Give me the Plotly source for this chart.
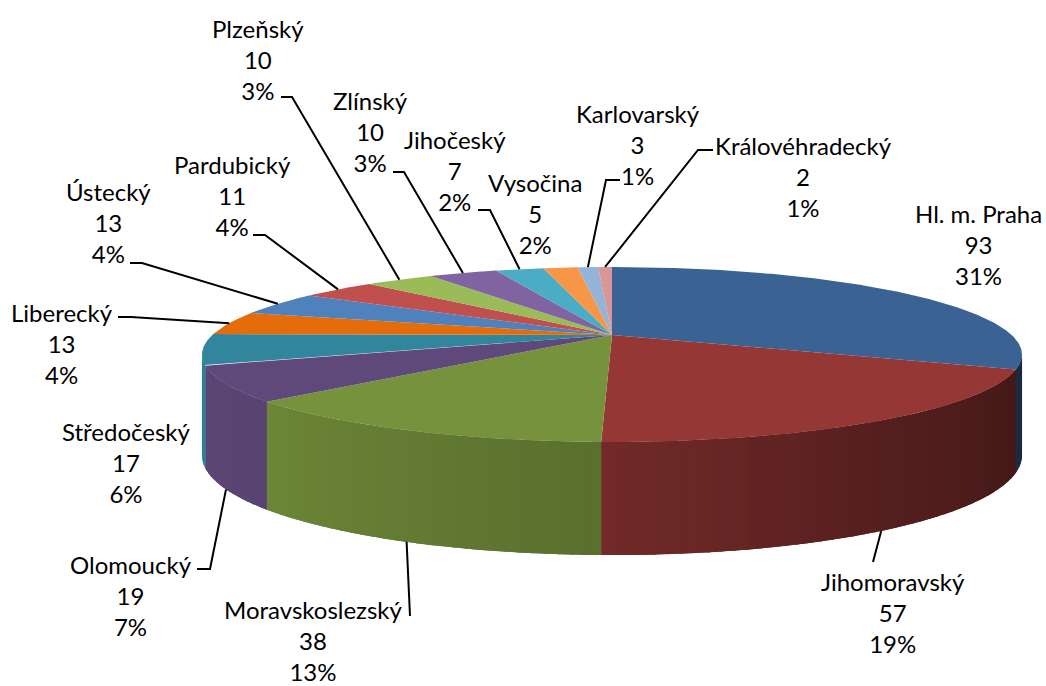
import numpy as np
import plotly.graph_objects as go

# ---------------- data ----------------
regions = ["Hl. m. Praha", "Jihomoravský", "Moravskoslezský", "Olomoucký",
           "Středočeský", "Liberecký", "Ústecký", "Pardubický", "Plzeňský",
           "Zlínský", "Jihočeský", "Vysočina", "Karlovarský", "Královéhradecký"]
counts = [93, 57, 38, 19, 17, 13, 13, 11, 10, 10, 7, 5, 3, 2]
pct_labels = ["31%", "19%", "13%", "7%", "6%", "4%", "4%", "4%", "3%", "3%",
              "2%", "2%", "1%", "1%"]

# ---------------- styles ----------------
colors = ["#3A6394", "#953735", "#76923C", "#5F497A", "#31859C", "#E46C0A",
          "#4F81BD", "#C0504D", "#9BBB59", "#8064A2", "#4BACC6", "#F79646",
          "#95B3D7", "#D99694"]

# label block centres (middle text line), in pixels of the 1046x686 canvas
label_xy = [(978, 244), (893, 612), (313, 640), (131, 595), (126, 462),
            (62, 343), (108, 222), (232, 195), (258, 59), (370, 131),
            (455, 170), (535, 213), (638, 144), (803, 176)]
# leader line start + knee near the label (None = no leader line)
leader_pts = [None,
              [(873, 562)],
              [(410, 616)],
              [(197, 569), (210, 569)],
              None,
              [(118, 317), (131, 317)],
              [(130, 263), (142, 263)],
              [(253, 235), (265, 235)],
              [(281, 97), (292, 97)],
              [(393, 172), (404, 172)],
              [(478, 210), (490, 210)],
              None,
              [(620, 180), (606, 180)],
              [(713, 150), (698, 150)]]

FONT = "Lato, 'Open Sans', sans-serif"
FONT_SIZE = 24

# ---------------- 3-D pie geometry (perspective ellipse) ----------------
CX, CY = 612.0, 335.0      # projected pie centre
A, B = 399.7, 83.2         # horizontal / depth radii
P = 0.223                  # perspective strength
D0, D1 = 97.0, 16.0        # wall height (grows toward viewer)
T_R = np.degrees(np.arcsin(P))
T_L = 180.0 - T_R


def top_pt(t_deg):
    t = np.radians(t_deg)
    u, v = np.cos(t), np.sin(t)
    w = 1.0 - P * v
    return CX + A * u / w, CY + B * v / w


def bot_pt(t_deg):
    x, y = top_pt(t_deg)
    v = np.sin(np.radians(t_deg))
    return x, y + D0 + D1 * v


def shade(hex_color, f):
    h = hex_color.lstrip("#")
    r, g, b = (int(h[i:i + 2], 16) for i in (0, 2, 4))
    return "rgb(%d,%d,%d)" % (round(r * f), round(g * f), round(b * f))


def light(t):
    return float(np.interp(t, [13, 25, 60, 91, 120, 140, 167],
                           [0.42, 0.45, 0.58, 0.76, 0.86, 0.93, 0.97]))


total = float(sum(counts))
cum = np.concatenate([[0.0], np.cumsum(counts)])
starts = -90.0 + 360.0 * cum[:-1] / total
ends = -90.0 + 360.0 * cum[1:] / total
mids = (starts + ends) / 2.0

fig = go.Figure()


def poly(xs, ys, color):
    fig.add_trace(go.Scatter(x=list(xs), y=list(ys), mode="lines", fill="toself",
                             fillcolor=color, line=dict(width=0, color=color),
                             hoverinfo="skip", showlegend=False))


# side walls (front half only)
for i in range(len(counts)):
    a, b = max(starts[i], T_R), min(ends[i], T_L)
    if a >= b:
        continue
    ts = np.linspace(a, b, max(3, int((b - a) / 0.5) + 1))
    tx, ty = top_pt(ts)
    bx, by = bot_pt(ts)
    poly(np.concatenate([tx, bx[::-1]]), np.concatenate([ty, by[::-1]]),
         shade(colors[i], light((a + b) / 2)))
    edges = np.linspace(a, b, max(2, int((b - a) / 1.5) + 1))
    for j in range(len(edges) - 1):
        s0, s1 = edges[j], min(edges[j + 1] + 0.3, b)
        ss = np.linspace(s0, s1, 4)
        sx, sy = top_pt(ss)
        qx, qy = bot_pt(ss)
        poly(np.concatenate([sx, qx[::-1]]), np.concatenate([sy, qy[::-1]]),
             shade(colors[i], light((s0 + s1) / 2)))

# top faces
for i in range(len(counts)):
    ts = np.linspace(starts[i], ends[i], max(3, int((ends[i] - starts[i]) / 0.4) + 1))
    rx, ry = top_pt(ts)
    poly(np.concatenate([[CX], rx, [CX]]), np.concatenate([[CY], ry, [CY]]), colors[i])

# leader lines
for i, pts in enumerate(leader_pts):
    if pts is None:
        continue
    m = mids[i] % 360
    if T_R <= m <= T_L:
        ex, ey = bot_pt(m)
    else:
        ex, ey = top_pt(m)
    xs = [p[0] for p in pts] + [ex]
    ys = [p[1] for p in pts] + [ey]
    fig.add_trace(go.Scatter(x=xs, y=ys, mode="lines",
                             line=dict(color="black", width=2),
                             hoverinfo="skip", showlegend=False))

# data labels
for i, name in enumerate(regions):
    lx, ly = label_xy[i]
    fig.add_annotation(x=lx, y=ly, xref="x", yref="y", showarrow=False,
                       text="%s<br>%d<br>%s" % (name, counts[i], pct_labels[i]),
                       xanchor="center", yanchor="middle", align="center",
                       font=dict(family=FONT, size=FONT_SIZE, color="black"))

fig.update_layout(
    width=1046, height=686,
    margin=dict(l=0, r=0, t=0, b=0),
    paper_bgcolor="white", plot_bgcolor="white",
    xaxis=dict(range=[0, 1046], visible=False, fixedrange=True),
    yaxis=dict(range=[686, 0], visible=False, fixedrange=True),
    showlegend=False,
)

fig.write_html("out.html", config={"displayModeBar": False},
               post_script="document.body.style.margin='0';document.body.style.overflow='hidden';")
